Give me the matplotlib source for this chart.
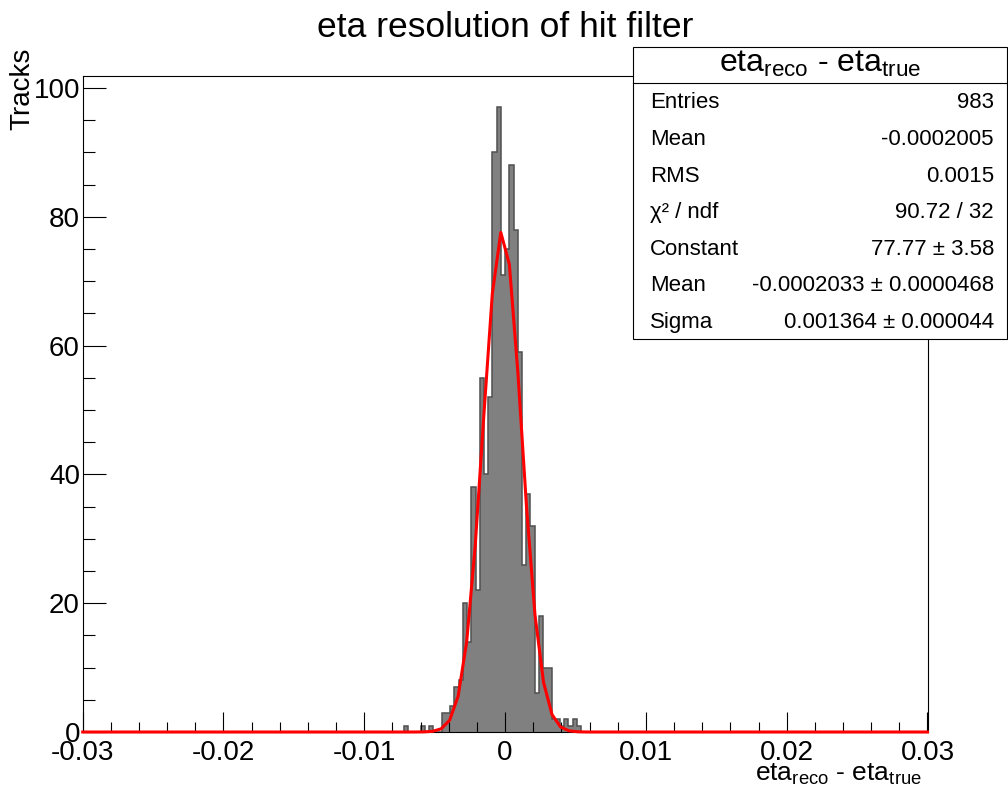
import numpy as np
import matplotlib
matplotlib.use("Agg")
import matplotlib.pyplot as plt
from matplotlib.patches import Rectangle
from matplotlib.lines import Line2D

plt.rcParams['font.family'] = ['Liberation Sans', 'DejaVu Sans']
plt.rcParams['mathtext.fontset'] = 'custom'
plt.rcParams['mathtext.rm'] = 'Liberation Sans'
plt.rcParams['mathtext.it'] = 'Liberation Sans:italic'

# histogramme : 200 bins entre -0.03 et 0.03, seuls les bins non vides autour du pic
nbins = 200
xmin, xmax = -0.03, 0.03
first_bin = 76
counts = [1, 0, 0, 0, 1, 0, 1, 0, 0, 3,
          3, 4, 7, 8, 20, 14, 38, 22, 55, 40,
          52, 90, 97, 71, 75, 88, 78, 59, 26, 37,
          32, 6, 18, 10, 10, 2, 2, 1, 2, 1,
          2, 1]

# paramètres de l'ajustement gaussien
fit_const = 77.77
fit_mean = -0.0002033
fit_sigma = 0.001364

xticks = [-0.03, -0.02, -0.01, 0.0, 0.01, 0.02, 0.03]
xtick_labels = ["-0.03", "-0.02", "-0.01", "0", "0.01", "0.02", "0.03"]
yticks = [0, 20, 40, 60, 80, 100]

stat_names = ["Entries", "Mean", "RMS", "\u03c7\u00b2 / ndf", "Constant", "Mean", "Sigma"]
stat_values = ["983", "-0.0002005", "0.0015", "90.72 / 32", "77.77 \u00b1 3.58",
               "-0.0002033 \u00b1 0.0000468", "0.001364 \u00b1 0.000044"]

W, H = 1008, 791
fig = plt.figure(figsize=(W / 100, H / 100), dpi=100)

def fx(px):
    return px / W

def fy(py):
    return 1 - py / H

ax = fig.add_axes([fx(82.7), fy(732), fx(927.5) - fx(82.7), fy(76) - fy(732)])

edges = np.linspace(xmin, xmax, nbins + 1)
h = np.zeros(nbins)
h[first_bin:first_bin + len(counts)] = counts

ax.stairs(h, edges, fill=True, color="#808080", lw=0)
ax.stairs(h, edges, color="#505050", lw=1.1)

xf = np.linspace(xmin, xmax, 100)
yf = fit_const * np.exp(-0.5 * ((xf - fit_mean) / fit_sigma) ** 2)
ax.plot(xf, yf, color="red", lw=2.2, zorder=4, clip_on=False)

ax.set_xlim(xmin, xmax)
ax.set_ylim(0, 101.85)
ax.set_xticks(xticks)
ax.set_xticklabels(xtick_labels)
ax.set_xticks(np.arange(-0.03, 0.0301, 0.002), minor=True)
ax.set_yticks(yticks)
ax.set_yticks(np.arange(0, 101, 5), minor=True)
ax.tick_params(axis='x', which='major', direction='in', length=14.4, width=0.8,
               labelsize=20, pad=6)
ax.tick_params(axis='x', which='minor', direction='in', length=7.2, width=0.8)
ax.tick_params(axis='y', which='major', direction='in', length=16.5, width=0.8,
               labelsize=20, pad=2)
ax.tick_params(axis='y', which='minor', direction='in', length=8.3, width=0.8)
for s in ax.spines.values():
    s.set_linewidth(0.8)

fig.text(fx(505), fy(37), "eta resolution of hit filter", ha='center', va='baseline',
         fontsize=25.5)
fig.text(fx(22), fy(48), "Tracks", rotation=90, ha='center', va='top', fontsize=20)
fig.text(fx(922), fy(781), r"eta$_{\mathrm{reco}}$ - eta$_{\mathrm{true}}$",
         ha='right', va='baseline', fontsize=19)

# boîte de statistiques
box_l, box_r, box_t, box_b, box_sep = 632.7, 1007, 47.3, 339, 82.7
fig.add_artist(Rectangle((fx(box_l), fy(box_b)), fx(box_r) - fx(box_l), fy(box_t) - fy(box_b),
                         transform=fig.transFigure, facecolor="white", edgecolor="black",
                         lw=0.8, zorder=5))
fig.add_artist(Line2D([fx(box_l), fx(box_r)], [fy(box_sep), fy(box_sep)],
                      transform=fig.transFigure, color="black", lw=0.8, zorder=6))
fig.text(fx((box_l + box_r) / 2), fy(72), r"eta$_{\mathrm{reco}}$ - eta$_{\mathrm{true}}$",
         ha='center', va='baseline', fontsize=23, zorder=7)
for i, (n, v) in enumerate(zip(stat_names, stat_values)):
    yy = 103 + i * 36.6
    fig.text(fx(650), fy(yy), n, ha='left', va='center', fontsize=16, zorder=7)
    fig.text(fx(994), fy(yy), v, ha='right', va='center', fontsize=16, zorder=7)

fig.savefig("out.png", dpi=100)
